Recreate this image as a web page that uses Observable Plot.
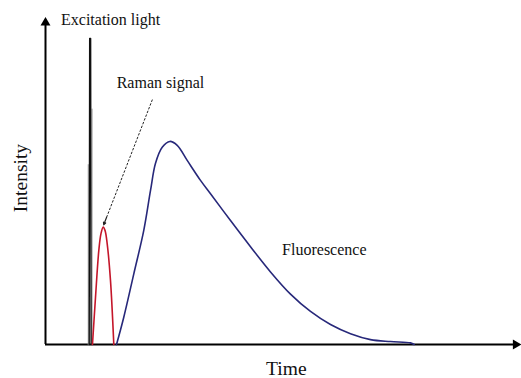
<!DOCTYPE html>
<html>
<head>
<meta charset="utf-8">
<script src="https://cdn.jsdelivr.net/npm/d3@7"></script>
<script src="https://cdn.jsdelivr.net/npm/@observablehq/plot@0.6"></script>
<style>
  html, body { margin: 0; padding: 0; background: #ffffff; }
  #chart { width: 521px; height: 378px; overflow: hidden; }
</style>
</head>
<body>
<div id="chart"></div>
<script>
// ---- Data (time and intensity in arbitrary units) ----
const excitationT = [9.2, 9.3, 9.5, 9.6];
const excitationV = [0, 93.6, 93.6, 0];
const excitationEdgeLeftT = [9.0, 9.0];
const excitationEdgeLeftV = [0, 55];
const excitationEdgeRightT = [9.8, 9.8];
const excitationEdgeRightV = [0, 72];

const ramanT = [9.89, 10.53, 11.22, 11.68, 12.15, 12.53, 12.99, 13.68, 14.38];
const ramanV = [0, 14.5, 28.7, 33.9, 35.9, 34.9, 30.8, 19.6, 0];

const fluorT = [14.95, 16.48, 18.59, 20.69, 22.11, 23.16, 24.57, 26.17, 27.73, 29.83, 32.63,
                34.74, 38.95, 43.16, 47.37, 51.58, 55.79, 60.0, 64.21, 68.42, 72.63, 76.84, 77.6];
const fluorV = [0, 8.35, 21.6, 34.9, 47.1, 55.4, 60.3, 62.1, 60.9, 56.3, 50.2,
                46.1, 37.9, 29.9, 22.2, 15.4, 10.1, 6.1, 3.3, 1.5, 0.9, 0.5, 0];

const labels = ["Excitation light", "Raman signal", "Fluorescence"];
const xLabel = "Time";
const yLabel = "Intensity";

// annotation arrow (from label to Raman peak)
const arrowFrom = [22.5, 74.9];
const arrowTo = [12.25, 36.6];

// ---- Build tables ----
const toRows = (t, v) => t.map((x, i) => ({t: x, v: v[i]}));
const excitation = toRows(excitationT, excitationV);
const edgeL = toRows(excitationEdgeLeftT, excitationEdgeLeftV);
const edgeR = toRows(excitationEdgeRightT, excitationEdgeRightV);
const raman = toRows(ramanT, ramanV);
const fluor = toRows(fluorT, fluorV);

// point slightly before the arrow end, for the solid head
const headStart = {
  x: arrowTo[0] + (arrowFrom[0] - arrowTo[0]) * 0.06,
  y: arrowTo[1] + (arrowFrom[1] - arrowTo[1]) * 0.06
};

const font = "'Liberation Serif', 'Times New Roman', serif";

const chart = Plot.plot({
  width: 521,
  height: 378,
  marginLeft: 45,
  marginRight: 1,
  marginTop: 17,
  marginBottom: 34,
  x: {domain: [0, 100], axis: null},
  y: {domain: [0, 100], axis: null},
  style: {fontFamily: font, background: "#ffffff", overflow: "visible"},
  marks: [
    // axes with arrowheads
    Plot.ruleX([0], {y1: 0, y2: 98.2, stroke: "#000", strokeWidth: 2}),
    Plot.ruleY([0], {x1: 0, x2: 98.8, stroke: "#000", strokeWidth: 2.2}),
    Plot.dot([{x: 0, y: 98.4}], {x: "x", y: "y", symbol: "triangle", r: 3.7, fill: "#000", stroke: "none"}),
    Plot.dot([{x: 99.0, y: 0}], {x: "x", y: "y", symbol: "triangle", r: 3.7, fill: "#000", stroke: "none", rotate: 90}),

    // excitation light spike
    Plot.line(edgeL, {x: "t", y: "v", stroke: "#9a9a9a", strokeWidth: 1}),
    Plot.line(edgeR, {x: "t", y: "v", stroke: "#9a9a9a", strokeWidth: 1}),
    Plot.line(excitation, {x: "t", y: "v", stroke: "#111", strokeWidth: 1.4}),

    // Raman signal
    Plot.line(raman, {x: "t", y: "v", stroke: "#c4162a", strokeWidth: 1.6, curve: "catmull-rom"}),

    // Fluorescence
    Plot.line(fluor, {x: "t", y: "v", stroke: "#27287a", strokeWidth: 1.6, curve: "catmull-rom"}),

    // annotation arrow
    Plot.link([0], {x1: () => arrowFrom[0], y1: () => arrowFrom[1], x2: () => headStart.x, y2: () => headStart.y,
      stroke: "#222", strokeWidth: 1, strokeDasharray: "2.5,1.5"}),
    Plot.arrow([0], {x1: () => headStart.x, y1: () => headStart.y, x2: () => arrowTo[0], y2: () => arrowTo[1],
      stroke: "#222", strokeWidth: 1.2, headLength: 7, headAngle: 50}),

    // labels
    Plot.text([labels[0]], {x: 13.7, y: 99.3, text: d => d, fontSize: 16, fill: "#111", textAnchor: "middle", lineAnchor: "middle"}),
    Plot.text([labels[1]], {x: 24.2, y: 80.0, text: d => d, fontSize: 16, fill: "#111", textAnchor: "middle", lineAnchor: "middle"}),
    Plot.text([labels[2]], {x: 58.7, y: 29.0, text: d => d, fontSize: 16, fill: "#111", textAnchor: "middle", lineAnchor: "middle"}),
    Plot.text([xLabel], {x: 50.7, y: -7.3, text: d => d, fontSize: 19.5, fill: "#111", textAnchor: "middle", lineAnchor: "middle"}),
    Plot.text([yLabel], {x: -5.3, y: 50.9, text: d => d, fontSize: 19.5, fill: "#111", textAnchor: "middle", lineAnchor: "middle", rotate: -90})
  ]
});

document.getElementById("chart").appendChild(chart);
</script>
</body>
</html>
